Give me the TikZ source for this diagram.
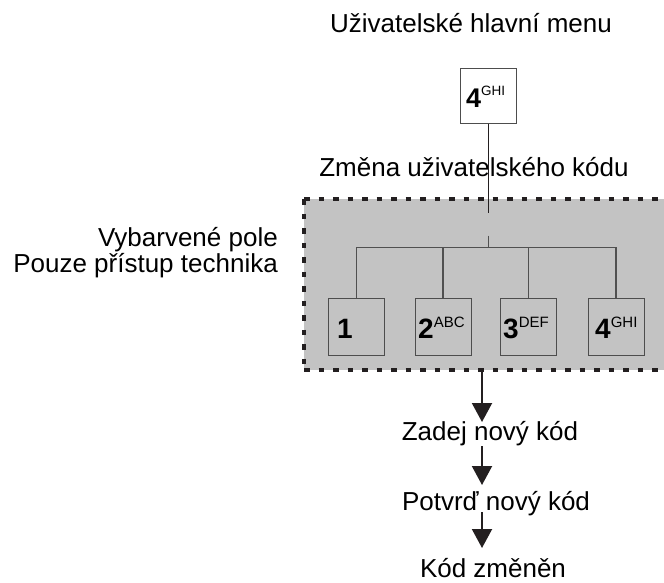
\documentclass[tikz,border=0pt]{standalone}
\usepackage{fontspec}
\setmainfont{Liberation Sans}
\usetikzlibrary{arrows.meta,calc}
\definecolor{areagray}{HTML}{C3C3C3}
\definecolor{ink}{HTML}{231F20}
\definecolor{boxline}{HTML}{4D4D4D}
\definecolor{treeline}{HTML}{505050}
\newcommand\keysup[2]{\raisebox{#2}{\fontsize{15}{15}\selectfont\mdseries #1}}
\begin{document}
\begin{tikzpicture}[x=1pt,y=-1pt,
  lbl/.style={font=\fontsize{26}{21.5}\selectfont, inner sep=0pt, anchor=base},
  keybox/.style={draw=boxline, line width=1pt, minimum width=56pt, minimum height=57pt, inner sep=0pt},
  digit/.style={font=\fontsize{28}{28}\selectfont\bfseries, inner sep=0pt, anchor=base west},
  stemline/.style={draw=ink, line width=1pt},
  treeline/.style={draw=treeline, line width=1.4pt},
  arr/.style={draw=ink, line width=2pt, -{Triangle[width=20pt,length=19pt]}},
  border/.style={draw=ink, line width=3.5pt, dash pattern=on 5.5pt off 9pt}]
\useasboundingbox (0,0) rectangle (664,582);
\clip (0,0) rectangle (664,582);

% shaded area
\path[fill=areagray] (304,199) rectangle (690,370);
\draw[border] (304,199) -- (690,199);
\draw[border] (304,199) -- (304,370);
\draw[border] (304,370) -- (690,370);

% texts
\node[lbl] (title) at (471,32) {Uživatelské hlavní menu};
\node[lbl] (change) at (474,176) {Změna uživatelského kódu};
\node[lbl, anchor=base east, align=right] (note) at (278,272) {Vybarvené pole\\Pouze přístup technika};

% top key
\node[keybox, minimum height=55pt] (top) at (488.5,95.5) {};
\node[digit, font=\fontsize{27}{27}\selectfont\bfseries] (topd) at (466,107) {4\keysup{\fontsize{13.5}{13.5}\selectfont GHI}{12pt}};

% bottom keys
\node[keybox] (b1) at (356.5,326.5) {};
\node[keybox] (b2) at (443,326.5) {};
\node[keybox] (b3) at (528.5,326.5) {};
\node[keybox] (b4) at (616,326.5) {};
\node[digit] (d1) at (337,338) {1};
\node[digit] (d2) at (418,338) {2\keysup{ABC}{10.5pt}};
\node[digit] (d3) at (503,338) {3\keysup{DEF}{10.5pt}};
\node[digit] (d4) at (595,338) {4\keysup{GHI}{10.5pt}};

% stem and tree
\coordinate (stemend) at ($(top.south)+(0,89)$);
\coordinate (hub) at ($(top.south)+(0,124)$);
\draw[stemline] (top.south) -- (stemend);
\draw[treeline] ($(hub)+(0,-12)$) -- (hub);
\draw[treeline] (b1.north) |- (b4.north |- hub) -- (b4.north);
\draw[treeline] (b2.north) -- (b2.north |- hub);
\draw[treeline] (b3.north) -- (b3.north |- hub);

% steps below
\node[lbl] (s1) at (490,440) {Zadej nový kód};
\node[lbl] (s2) at (496,510) {Potvrď nový kód};
\node[lbl, text depth=0pt] (s3) at (493,577) {Kód změněn};
\coordinate (a0) at (482,370);
\coordinate (a1) at (482,422);
\coordinate (a2s) at (482,446);
\coordinate (a2) at (482,485);
\coordinate (a3s) at (482,512);
\coordinate (a3) at (482,548);
\draw[arr] (a0) -- (a1);
\draw[arr] (a2s) -- (a2);
\draw[arr] (a3s) -- (a3);
\end{tikzpicture}
\end{document}
